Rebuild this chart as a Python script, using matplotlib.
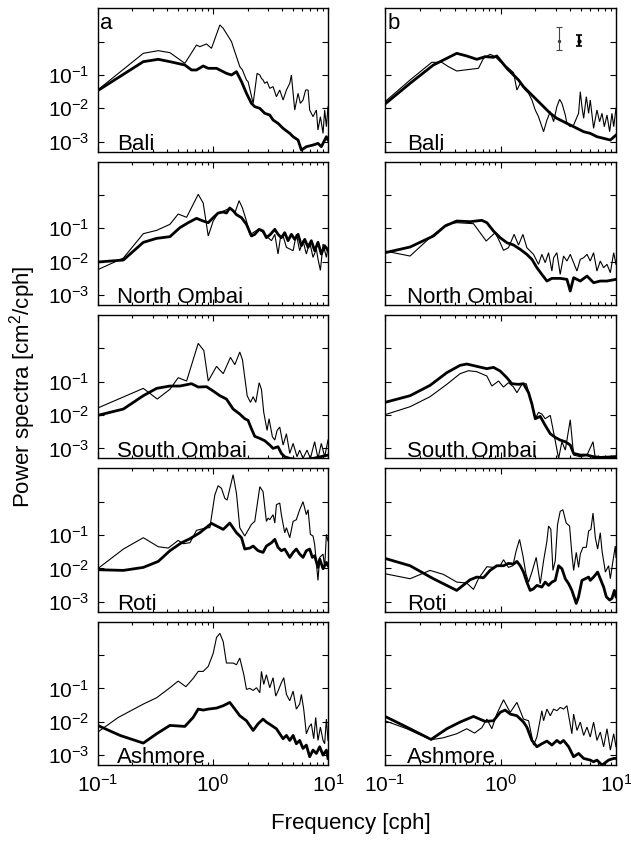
import matplotlib
matplotlib.use('Agg')
import matplotlib.pyplot as plt
from matplotlib.ticker import FixedLocator, LogLocator, NullFormatter, FixedFormatter

plt.rcParams['font.family'] = ['Liberation Sans', 'DejaVu Sans']
plt.rcParams['mathtext.fontset'] = 'custom'
plt.rcParams['mathtext.rm'] = 'Liberation Sans'
plt.rcParams['mathtext.it'] = 'Liberation Sans:italic'
plt.rcParams['mathtext.bf'] = 'Liberation Sans:bold'

stations = ['Bali', 'North Ombai', 'South Ombai', 'Roti', 'Ashmore']
column_labels = ['a', 'b']
x_ticks = [0.1, 1.0, 10.0]
x_tick_labels = [r'$10^{-1}$', r'$10^{0}$', r'$10^{1}$']
y_ticks = [1e-3, 1e-2, 1e-1, 1e0]
y_tick_labels = [r'$10^{-3}$', r'$10^{-2}$', r'$10^{-1}$', '']
x_label = 'Frequency [cph]'
y_label = r'Power spectra [cm$^2$/cph]'

# Each curve: (log10 frequency [cph], log10 power [cm^2/cph]) pairs
bali_a_thin = [(-1.00,-1.45),(-0.604,-0.35),(-0.474,-0.27),(-0.373,-0.33),(-0.243,-0.65),(-0.142,-0.10),
    (-0.113,-0.15),(-0.055,-0.07),(-0.012,-0.20),(0.061,0.50),(0.090,0.40),(0.162,0.00),(0.176,-0.15),
    (0.234,-0.75),(0.257,-0.85),(0.292,-1.15),(0.306,-1.20),(0.350,-1.85),(0.384,-0.95),(0.408,-1.00),
    (0.422,-1.10),(0.436,-1.15),(0.451,-1.25),(0.471,-1.20),(0.494,-1.40),(0.523,-1.35),(0.552,-1.65),
    (0.581,-1.45),(0.610,-1.75),(0.639,-1.45),(0.668,-1.25),(0.682,-1.00),(0.711,-2.05),(0.740,-1.55),
    (0.760,-1.85),(0.783,-1.75),(0.806,-1.45),(0.827,-1.45),(0.841,-2.05),(0.870,-2.25),(0.899,-2.05),
    (0.913,-2.65),(0.934,-2.25),(0.957,-2.75),(0.971,-2.05),(0.986,-2.55),(1.000,-1.95)]
bali_a_thick = [(-1.00,-1.47),(-0.604,-0.60),(-0.474,-0.53),(-0.373,-0.60),(-0.243,-0.70),(-0.185,-0.85),
    (-0.142,-0.85),(-0.084,-0.73),(-0.040,-0.80),(0.032,-0.80),(0.118,-0.95),(0.162,-1.00),(0.205,-0.90),
    (0.249,-1.20),(0.292,-1.55),(0.335,-1.85),(0.364,-1.95),(0.408,-2.00),(0.451,-2.15),(0.494,-2.20),
    (0.523,-2.35),(0.566,-2.45),(0.610,-2.60),(0.668,-2.75),(0.697,-2.85),(0.740,-2.95),(0.769,-3.25),
    (0.812,-3.15),(0.870,-3.10),(0.913,-3.05),(0.942,-3.15),(0.986,-2.85),(1.000,-2.95)]
bali_b_thin = [(-1.00,-1.80),(-0.783,-1.15),(-0.595,-0.62),(-0.509,-0.62),(-0.451,-0.75),(-0.379,-0.88),
    (-0.263,-0.83),(-0.191,-0.80),(-0.147,-0.50),(-0.090,-0.38),(-0.046,-0.45),(-0.003,-0.60),(0.055,-0.75),
    (0.113,-0.93),(0.142,-1.45),(0.171,-1.25),(0.214,-1.45),(0.243,-1.55),(0.272,-1.75),(0.301,-2.05),
    (0.329,-2.25),(0.373,-2.70),(0.402,-2.35),(0.431,-2.10),(0.460,-2.40),(0.488,-1.95),(0.512,-1.73),
    (0.532,-1.85),(0.561,-2.20),(0.575,-2.45),(0.604,-2.55),(0.633,-2.50),(0.676,-2.15),(0.691,-1.50),
    (0.705,-1.95),(0.720,-2.30),(0.743,-1.65),(0.763,-2.15),(0.777,-1.75),(0.806,-2.60),(0.835,-2.05),
    (0.858,-2.40),(0.879,-2.15),(0.899,-2.55),(0.922,-2.20),(0.945,-2.70),(0.965,-2.15),(0.980,-2.55),
    (1.000,-2.00)]
bali_b_thick = [(-1.00,-1.87),(-0.783,-1.25),(-0.581,-0.70),(-0.465,-0.50),(-0.379,-0.35),(-0.292,-0.43),
    (-0.205,-0.53),(-0.133,-0.45),(-0.061,-0.47),(-0.032,-0.43),(-0.003,-0.55),(0.055,-0.80),(0.113,-1.00),
    (0.156,-1.15),(0.199,-1.35),(0.257,-1.55),(0.315,-1.75),(0.373,-1.95),(0.431,-2.15),(0.488,-2.30),
    (0.546,-2.40),(0.604,-2.50),(0.662,-2.60),(0.720,-2.70),(0.777,-2.75),(0.835,-2.85),(0.893,-2.90),
    (0.951,-2.95),(1.000,-2.80)]

nombai_a_thin = [(-1.00,-2.24),(-0.777,-1.89),(-0.604,-1.16),(-0.488,-1.06),(-0.373,-0.88),(-0.301,-0.57),
    (-0.228,-0.67),(-0.127,0.02),(-0.084,-0.24),(-0.040,-1.23),(0.003,-0.78),(0.046,-0.54),(0.090,-0.49),
    (0.147,-0.39),(0.191,-0.54),(0.228,-0.17),(0.257,-0.39),(0.292,-0.78),(0.321,-1.18),(0.350,-1.13),
    (0.393,-1.03),(0.422,-1.08),(0.465,-1.23),(0.509,-1.37),(0.538,-1.18),(0.566,-1.77),(0.587,-1.28),
    (0.610,-1.23),(0.639,-1.57),(0.668,-1.62),(0.697,-1.67),(0.725,-1.18),(0.754,-1.67),(0.783,-1.37),
    (0.812,-1.77),(0.841,-1.42),(0.870,-1.87),(0.899,-1.62),(0.913,-1.92),(0.934,-2.26),(0.957,-1.47),
    (0.986,-1.87),(1.000,-1.57)]
nombai_a_thick = [(-1.00,-2.01),(-0.777,-1.95),(-0.604,-1.42),(-0.488,-1.30),(-0.373,-1.25),(-0.286,-0.98),
    (-0.214,-0.83),(-0.142,-0.70),(-0.084,-0.78),(-0.040,-0.83),(0.003,-0.68),(0.046,-0.54),(0.090,-0.51),
    (0.118,-0.54),(0.147,-0.39),(0.176,-0.47),(0.205,-0.59),(0.249,-0.68),(0.292,-0.88),(0.335,-1.23),
    (0.364,-1.18),(0.402,-1.03),(0.436,-1.08),(0.465,-1.28),(0.500,-1.18),(0.538,-1.03),(0.566,-1.18),
    (0.595,-1.28),(0.624,-1.13),(0.653,-1.37),(0.682,-1.18),(0.711,-1.33),(0.740,-1.18),(0.769,-1.52),
    (0.798,-1.33),(0.827,-1.57),(0.855,-1.37),(0.884,-1.67),(0.913,-1.42),(0.942,-1.77),(0.971,-1.52),
    (1.000,-1.67)]
nombai_b_thin = [(-1.00,-1.68),(-0.783,-1.83),(-0.595,-1.23),(-0.465,-0.88),(-0.379,-0.83),(-0.234,-0.86),
    (-0.124,-1.38),(-0.046,-1.13),(-0.003,-1.43),(0.026,-1.66),(0.069,-1.58),(0.118,-1.18),(0.156,-1.50),
    (0.194,-1.18),(0.228,-1.58),(0.257,-1.68),(0.286,-1.78),(0.329,-2.08),(0.358,-1.78),(0.387,-2.03),
    (0.416,-1.73),(0.445,-2.28),(0.460,-1.88),(0.488,-1.73),(0.517,-2.38),(0.546,-1.83),(0.575,-1.98),
    (0.604,-1.78),(0.633,-2.03),(0.662,-2.28),(0.691,-1.93),(0.720,-1.88),(0.749,-1.78),(0.777,-1.98),
    (0.806,-1.73),(0.835,-2.28),(0.864,-1.98),(0.893,-2.18),(0.922,-2.08),(0.951,-2.33),(0.980,-1.73),
    (1.000,-2.08)]
nombai_b_thick = [(-1.00,-1.73),(-0.783,-1.56),(-0.581,-1.23),(-0.480,-0.93),(-0.379,-0.78),(-0.263,-0.80),
    (-0.162,-0.76),(-0.118,-0.83),(-0.061,-1.08),(-0.003,-1.28),(0.055,-1.43),(0.113,-1.50),(0.171,-1.63),
    (0.228,-1.78),(0.272,-1.93),(0.315,-2.18),(0.358,-2.38),(0.402,-2.58),(0.445,-2.50),(0.517,-2.50),
    (0.575,-2.53),(0.604,-2.88),(0.633,-2.48),(0.691,-2.58),(0.749,-2.43),(0.806,-2.63),(0.864,-2.58),
    (0.922,-2.58),(1.000,-2.53)]

sombai_a_thin = [(-1.00,-1.79),(-0.604,-1.20),(-0.483,-1.52),(-0.373,-1.23),(-0.301,-0.88),(-0.228,-0.98),
    (-0.127,0.15),(-0.078,-0.07),(-0.040,-0.98),(0.032,-0.54),(0.090,-0.76),(0.153,-0.27),(0.191,-0.49),
    (0.234,-0.11),(0.257,-0.34),(0.298,-1.42),(0.327,-1.62),(0.350,-1.45),(0.373,-1.62),(0.402,-1.03),
    (0.422,-1.23),(0.442,-1.92),(0.471,-2.46),(0.488,-2.11),(0.517,-2.65),(0.538,-2.75),(0.558,-2.46),
    (0.581,-2.36),(0.610,-2.90),(0.639,-2.56),(0.668,-3.15),(0.697,-2.85),(0.731,-3.25),(0.754,-3.05),
    (0.783,-3.30),(0.818,-3.05),(0.847,-3.30),(0.884,-2.80),(0.913,-3.30),(0.942,-2.85),(0.971,-3.25),
    (1.000,-2.75)]
sombai_a_thick = [(-1.00,-2.01),(-0.777,-1.82),(-0.604,-1.42),(-0.488,-1.20),(-0.373,-1.13),(-0.286,-1.13),
    (-0.185,-1.06),(-0.127,-1.16),(-0.055,-1.15),(0.003,-1.28),(0.061,-1.42),(0.118,-1.52),(0.147,-1.67),
    (0.176,-1.82),(0.234,-1.97),(0.277,-2.11),(0.306,-2.16),(0.335,-2.41),(0.364,-2.64),(0.408,-2.70),
    (0.451,-2.77),(0.494,-2.90),(0.523,-3.00),(0.566,-2.95),(0.595,-3.15),(0.624,-3.25),(0.668,-3.30),
    (0.754,-3.35),(0.870,-3.30),(1.000,-3.20)]
sombai_b_thin = [(-1.00,-1.99),(-0.783,-1.75),(-0.610,-1.45),(-0.465,-1.08),(-0.350,-0.76),(-0.277,-0.67),
    (-0.205,-0.70),(-0.118,-0.83),(-0.075,-1.13),(-0.017,-0.98),(0.026,-1.16),(0.069,-1.03),(0.113,-1.16),
    (0.142,-1.33),(0.185,-1.08),(0.223,-1.06),(0.257,-1.47),(0.301,-2.11),(0.329,-1.92),(0.358,-1.97),
    (0.387,-2.11),(0.431,-2.01),(0.465,-2.61),(0.503,-3.30),(0.532,-2.80),(0.561,-3.05),(0.604,-2.14),
    (0.633,-3.20),(0.691,-3.25),(0.749,-3.20),(0.801,-2.80),(0.821,-3.30),(0.922,-3.25),(1.000,-3.23)]
sombai_b_thick = [(-1.00,-1.62),(-0.783,-1.42),(-0.610,-1.11),(-0.465,-0.73),(-0.350,-0.51),(-0.292,-0.47),
    (-0.205,-0.54),(-0.118,-0.61),(-0.061,-0.57),(-0.003,-0.68),(0.055,-0.88),(0.098,-1.06),(0.156,-1.08),
    (0.199,-1.06),(0.243,-1.33),(0.272,-1.67),(0.301,-2.11),(0.344,-2.04),(0.387,-2.31),(0.431,-2.56),
    (0.474,-2.67),(0.517,-2.75),(0.561,-2.80),(0.604,-2.90),(0.633,-3.15),(0.691,-3.20),(0.749,-3.20),
    (0.806,-3.25),(0.864,-3.27),(1.000,-3.25)]

roti_a_thin = [(-1.00,-2.01),(-0.777,-1.42),(-0.604,-1.08),(-0.474,-1.35),(-0.387,-1.39),(-0.301,-1.16),
    (-0.257,-1.26),(-0.199,-1.23),(-0.142,-0.86),(-0.055,-0.78),(-0.026,-0.78),(0.017,0.20),(0.046,0.48),
    (0.075,0.40),(0.104,0.10),(0.124,0.05),(0.176,0.81),(0.205,0.25),(0.234,-0.78),(0.277,-1.03),
    (0.335,-0.68),(0.364,-0.59),(0.408,0.45),(0.436,0.30),(0.465,-0.59),(0.480,-0.49),(0.494,-0.54),
    (0.523,-0.39),(0.538,-0.64),(0.552,-0.09),(0.581,-0.04),(0.595,-0.39),(0.624,-0.93),(0.639,-0.78),
    (0.668,-1.08),(0.697,-0.59),(0.725,-0.54),(0.754,-0.24),(0.783,0.00),(0.812,-0.39),(0.827,-0.24),
    (0.847,-0.98),(0.870,-1.03),(0.884,-1.28),(0.913,-2.36),(0.928,-1.67),(0.957,-1.57),(0.971,-1.97),
    (0.986,-0.98),(1.000,-1.18)]
roti_a_thick = [(-1.00,-2.04),(-0.777,-2.06),(-0.604,-1.97),(-0.474,-1.79),(-0.373,-1.47),(-0.272,-1.23),
    (-0.199,-1.11),(-0.113,-0.93),(-0.012,-0.65),(0.090,-0.83),(0.147,-0.64),(0.205,-0.93),(0.249,-1.08),
    (0.277,-1.42),(0.321,-1.39),(0.350,-1.33),(0.393,-1.47),(0.436,-1.52),(0.465,-1.33),(0.509,-1.23),
    (0.538,-1.13),(0.566,-1.37),(0.595,-1.47),(0.624,-1.42),(0.668,-1.67),(0.697,-1.52),(0.725,-1.42),
    (0.754,-1.57),(0.783,-1.67),(0.812,-1.47),(0.841,-1.42),(0.864,-1.67),(0.884,-1.62),(0.913,-1.97),
    (0.928,-1.72),(0.957,-2.01),(0.986,-1.82),(1.000,-1.92)]
roti_b_thin = [(-1.00,-2.16),(-0.783,-2.31),(-0.610,-2.06),(-0.494,-2.18),(-0.379,-2.41),(-0.292,-2.44),
    (-0.234,-2.63),(-0.191,-2.31),(-0.118,-1.95),(-0.061,-1.97),(-0.003,-1.92),(0.026,-1.74),(0.069,-1.97),
    (0.107,-1.92),(0.136,-1.47),(0.165,-1.13),(0.194,-1.62),(0.220,-2.16),(0.243,-2.41),(0.272,-2.11),
    (0.309,-1.67),(0.344,-2.46),(0.373,-1.77),(0.402,-1.18),(0.416,-0.73),(0.436,-0.83),(0.454,-2.06),
    (0.474,-1.77),(0.494,-0.68),(0.517,-0.29),(0.540,-0.24),(0.569,-0.64),(0.598,-0.73),(0.618,-1.57),
    (0.633,-2.06),(0.656,-1.52),(0.676,-1.97),(0.691,-1.57),(0.714,-1.37),(0.743,-1.37),(0.763,-0.88),
    (0.783,-0.83),(0.801,-0.34),(0.821,-1.08),(0.841,-1.42),(0.864,-0.93),(0.879,-1.47),(0.908,-2.11),
    (0.936,-1.92),(0.951,-2.31),(0.974,-1.77),(0.994,-1.33),(1.000,-1.67)]
roti_b_thick = [(-1.00,-1.70),(-0.783,-1.92),(-0.581,-2.31),(-0.379,-2.66),(-0.263,-2.34),(-0.205,-2.26),
    (-0.147,-2.28),(-0.090,-2.06),(-0.032,-1.92),(0.026,-1.92),(0.069,-1.85),(0.113,-1.87),(0.142,-1.79),
    (0.171,-1.92),(0.199,-2.11),(0.228,-2.41),(0.257,-2.66),(0.286,-2.61),(0.315,-2.51),(0.358,-2.56),
    (0.387,-2.41),(0.416,-2.51),(0.445,-2.41),(0.474,-2.36),(0.503,-1.92),(0.532,-2.01),(0.561,-2.31),
    (0.590,-2.46),(0.618,-2.66),(0.656,-3.05),(0.676,-2.85),(0.705,-2.36),(0.734,-2.31),(0.763,-2.26),
    (0.777,-2.36),(0.806,-2.26),(0.841,-2.11),(0.864,-2.31),(0.893,-2.56),(0.916,-2.85),(0.945,-2.95),
    (0.965,-2.90),(0.986,-2.66),(1.000,-2.85)]

ashmore_a_thin = [(-1.00,-2.31),(-0.821,-1.87),(-0.604,-1.47),(-0.488,-1.28),(-0.373,-0.98),(-0.301,-0.78),
    (-0.234,-0.95),(-0.171,-0.70),(-0.127,-0.49),(-0.084,-0.49),(-0.040,-0.34),(0.003,0.05),(0.032,0.53),
    (0.061,0.65),(0.090,0.40),(0.118,-0.24),(0.176,-0.24),(0.205,-0.29),(0.234,-0.09),(0.269,-0.59),
    (0.292,-1.03),(0.321,-1.00),(0.350,-1.06),(0.379,-0.98),(0.408,-1.13),(0.422,-0.49),(0.442,-0.88),
    (0.465,-0.59),(0.494,-0.98),(0.523,-0.68),(0.546,-1.23),(0.566,-1.08),(0.595,-0.83),(0.616,-0.68),
    (0.639,-1.18),(0.668,-1.37),(0.697,-1.08),(0.725,-1.62),(0.754,-1.47),(0.769,-1.18),(0.789,-1.62),
    (0.812,-2.36),(0.835,-2.16),(0.855,-2.06),(0.876,-2.51),(0.893,-1.87),(0.913,-2.56),(0.934,-2.16),
    (0.957,-2.56),(0.971,-2.66),(0.986,-1.92),(1.000,-2.56)]
ashmore_a_thick = [(-1.00,-2.11),(-0.806,-2.41),(-0.604,-2.64),(-0.488,-2.36),(-0.373,-2.11),(-0.243,-2.14),
    (-0.171,-1.87),(-0.127,-1.62),(-0.084,-1.65),(-0.040,-1.62),(0.032,-1.59),(0.090,-1.52),(0.147,-1.42),
    (0.191,-1.62),(0.234,-1.82),(0.292,-1.97),(0.350,-2.26),(0.393,-2.06),(0.436,-1.92),(0.465,-2.01),
    (0.509,-2.11),(0.552,-2.21),(0.581,-2.36),(0.610,-2.51),(0.639,-2.41),(0.668,-2.56),(0.697,-2.41),
    (0.725,-2.66),(0.754,-2.56),(0.783,-2.80),(0.812,-2.70),(0.841,-3.05),(0.870,-2.85),(0.899,-2.95),
    (0.928,-2.75),(0.957,-3.00),(0.986,-2.85),(1.000,-3.10)]
ashmore_b_thin = [(-1.00,-1.97),(-0.812,-2.21),(-0.601,-2.54),(-0.494,-2.48),(-0.379,-2.36),(-0.292,-2.21),
    (-0.225,-2.34),(-0.162,-2.18),(-0.118,-1.92),(-0.075,-2.21),(-0.032,-1.77),(0.026,-1.34),(0.084,-1.72),
    (0.142,-1.42),(0.199,-1.92),(0.243,-1.97),(0.286,-2.70),(0.315,-2.46),(0.358,-1.67),(0.373,-1.97),
    (0.402,-1.62),(0.431,-1.82),(0.460,-1.62),(0.488,-1.67),(0.517,-1.57),(0.546,-1.62),(0.575,-1.52),
    (0.598,-1.97),(0.618,-2.36),(0.633,-1.77),(0.662,-2.26),(0.691,-2.01),(0.720,-2.41),(0.749,-2.16),
    (0.777,-2.46),(0.806,-2.01),(0.835,-2.56),(0.864,-2.31),(0.893,-2.75),(0.922,-2.21),(0.951,-2.85),
    (0.980,-2.36),(1.000,-2.75)]
ashmore_b_thick = [(-1.00,-1.84),(-0.812,-2.16),(-0.601,-2.53),(-0.465,-2.21),(-0.350,-2.01),(-0.234,-1.84),
    (-0.133,-1.99),(-0.061,-1.97),(-0.003,-1.72),(0.040,-1.65),(0.084,-1.77),(0.142,-1.82),(0.199,-2.01),
    (0.228,-2.16),(0.272,-2.56),(0.315,-2.75),(0.358,-2.66),(0.402,-2.58),(0.445,-2.70),(0.488,-2.56),
    (0.517,-2.64),(0.546,-2.56),(0.590,-2.75),(0.633,-3.05),(0.676,-2.95),(0.720,-3.10),(0.777,-3.15),
    (0.806,-3.20),(0.835,-3.15),(0.879,-3.30),(0.936,-3.15),(0.980,-3.10),(1.000,-3.10)]

# confidence-interval markers in panel b (Bali)
ci_freq = [3.2, 4.8]
ci_center = [1.07, 1.07]
ci_lower = [0.56, 0.74]
ci_upper = [2.8, 1.6]

curves = {
    (0, 0): (bali_a_thin, bali_a_thick), (0, 1): (bali_b_thin, bali_b_thick),
    (1, 0): (nombai_a_thin, nombai_a_thick), (1, 1): (nombai_b_thin, nombai_b_thick),
    (2, 0): (sombai_a_thin, sombai_a_thick), (2, 1): (sombai_b_thin, sombai_b_thick),
    (3, 0): (roti_a_thin, roti_a_thick), (3, 1): (roti_b_thin, roti_b_thick),
    (4, 0): (ashmore_a_thin, ashmore_a_thick), (4, 1): (ashmore_b_thin, ashmore_b_thick),
}

FS = 16
TFS = 15
fig = plt.figure(figsize=(6.31, 8.41), dpi=100)
W, H = 631.0, 841.0
col_left = [97.7, 385.0]
col_width = [230.3, 231.0]
row_top0, row_step, row_h = 8.3, 153.35, 143.4

def xy(pairs):
    return [10 ** p[0] for p in pairs], [10 ** p[1] for p in pairs]

for r in range(5):
    for c in range(2):
        top = row_top0 + r * row_step
        ax = fig.add_axes([col_left[c] / W, 1 - (top + row_h) / H, col_width[c] / W, row_h / H])
        thin, thick = curves[(r, c)]
        fx, py = xy(thin)
        ax.plot(fx, py, color='black', lw=0.8, solid_joinstyle='miter')
        fx, py = xy(thick)
        ax.plot(fx, py, color='black', lw=2.0, solid_joinstyle='round')
        ax.set_xscale('log')
        ax.set_yscale('log')
        ax.set_xlim(0.1, 10)
        ax.set_ylim(10 ** -3.3, 10)
        ax.xaxis.set_major_locator(FixedLocator(x_ticks))
        ax.xaxis.set_minor_locator(LogLocator(base=10, subs=range(2, 10)))
        ax.yaxis.set_major_locator(FixedLocator(y_ticks))
        ax.yaxis.set_minor_locator(LogLocator(base=10, subs=range(2, 10)))
        ax.xaxis.set_minor_formatter(NullFormatter())
        ax.yaxis.set_minor_formatter(NullFormatter())
        if r == 4:
            ax.xaxis.set_major_formatter(FixedFormatter(x_tick_labels))
        else:
            ax.xaxis.set_major_formatter(NullFormatter())
        if c == 0:
            ax.yaxis.set_major_formatter(FixedFormatter(y_tick_labels))
        else:
            ax.yaxis.set_major_formatter(NullFormatter())
        ax.tick_params(which='both', direction='in', top=True, right=True, labelsize=TFS, width=0.8)
        ax.tick_params(which='major', length=4, pad=6)
        ax.tick_params(which='minor', length=2)
        for s in ax.spines.values():
            s.set_linewidth(1.0)
        ax.text(0.085 if c == 0 else 0.094, 0.012, stations[r], transform=ax.transAxes,
                fontsize=FS, va='baseline', ha='left')
        if r == 0:
            ax.text(0.012, 0.965, column_labels[c], transform=ax.transAxes,
                    fontsize=FS, va='top', ha='left')
        if r == 0 and c == 1:
            yerr = [[ci_center[0] - ci_lower[0]], [ci_upper[0] - ci_center[0]]]
            ax.errorbar([ci_freq[0]], [ci_center[0]], yerr=yerr, fmt='.', color='#444444',
                        ms=3, lw=0.8, capsize=2.5, capthick=0.8)
            yerr = [[ci_center[1] - ci_lower[1]], [ci_upper[1] - ci_center[1]]]
            ax.errorbar([ci_freq[1]], [ci_center[1]], yerr=yerr, fmt='.', color='black',
                        ms=4, lw=1.6, capsize=2, capthick=1.2)

fig.text(0.035, 0.54, y_label, rotation=90, fontsize=FS, ha='center', va='center')
fig.text(0.556, 0.021, x_label, fontsize=FS, ha='center', va='center')

fig.savefig('out.png', dpi=100)
